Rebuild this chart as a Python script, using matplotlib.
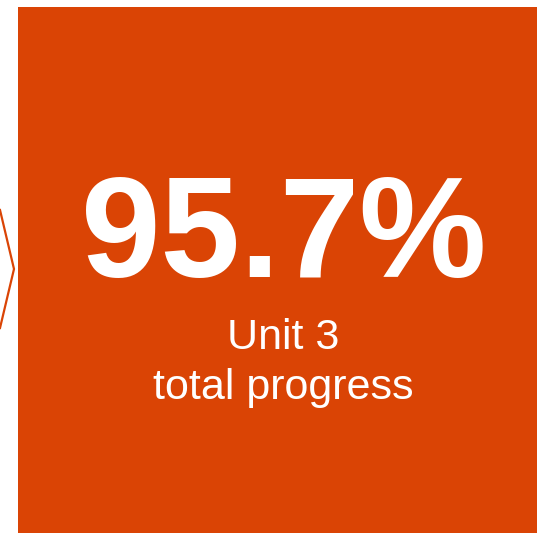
import matplotlib
matplotlib.use("Agg")
import matplotlib.pyplot as plt
from matplotlib.patches import Rectangle

# KPI tile content
progress_value = 95.7
unit_label = "Unit 3"
caption = "total progress"

tile_color = "#DA4405"

fig = plt.figure(figsize=(5.37, 5.33), dpi=100)
ax = fig.add_axes([0, 0, 1, 1])
ax.set_xlim(0, 537)
ax.set_ylim(533, 0)
ax.axis("off")

# orange tile
ax.add_patch(Rectangle((18, 7), 519, 526, facecolor=tile_color, edgecolor="none"))

# chevron from the previous tile, peeking in on the left
ax.plot([0, 14, 0], [210, 269, 328], color=tile_color, linewidth=1.6,
        solid_joinstyle="miter")

# big number
ax.text(284, 277, f"{progress_value:.1f}%", color="white", fontsize=103,
        fontweight="bold", family="Liberation Sans", ha="center", va="baseline")

# caption lines
ax.text(283, 349, unit_label, color="white", fontsize=31,
        family="Liberation Sans", ha="center", va="baseline")
ax.text(283, 399, caption, color="white", fontsize=31,
        family="Liberation Sans", ha="center", va="baseline")

fig.savefig("out.png", dpi=100)
